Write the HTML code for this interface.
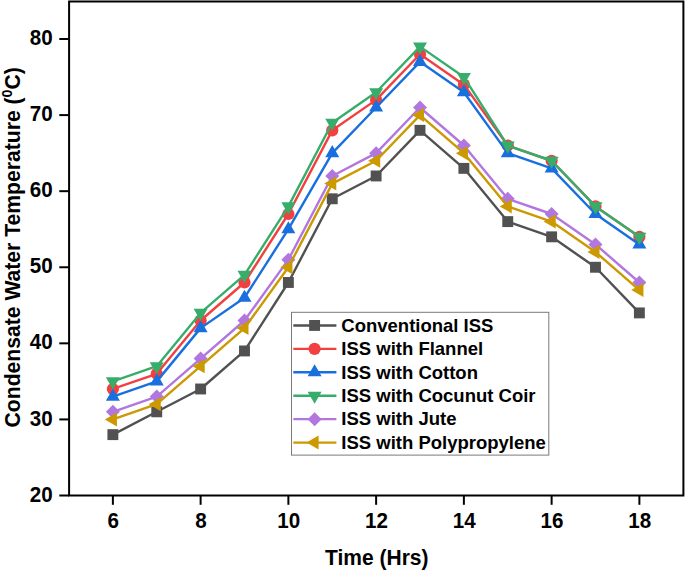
<!DOCTYPE html>
<html><head><meta charset="utf-8"><title>Condensate Water Temperature</title>
<style>
html,body{margin:0;padding:0;background:#fff;}
svg{display:block;}
text{font-family:"Liberation Sans",Arial,sans-serif;font-weight:bold;fill:#000;}
.t{font-size:21px;}
.k{font-size:20.6px;}
.l{font-size:18.5px;}
</style></head><body>
<svg width="685" height="570" viewBox="0 0 685 570">
<rect x="0" y="0" width="685" height="570" fill="#fff"/>

<polyline points="112.88,434.64 156.75,411.81 200.62,388.99 244.50,350.95 288.38,282.48 332.25,198.79 376.12,175.96 420.00,130.32 463.88,168.36 507.75,221.61 551.62,236.83 595.50,267.26 639.38,312.91" fill="none" stroke="#515151" stroke-width="2.4" stroke-linejoin="round"/>
<rect x="107.42" y="429.19" width="10.9" height="10.9" fill="#515151"/>
<rect x="151.30" y="406.36" width="10.9" height="10.9" fill="#515151"/>
<rect x="195.18" y="383.54" width="10.9" height="10.9" fill="#515151"/>
<rect x="239.05" y="345.50" width="10.9" height="10.9" fill="#515151"/>
<rect x="282.93" y="277.03" width="10.9" height="10.9" fill="#515151"/>
<rect x="326.80" y="193.34" width="10.9" height="10.9" fill="#515151"/>
<rect x="370.68" y="170.51" width="10.9" height="10.9" fill="#515151"/>
<rect x="414.55" y="124.87" width="10.9" height="10.9" fill="#515151"/>
<rect x="458.43" y="162.91" width="10.9" height="10.9" fill="#515151"/>
<rect x="502.30" y="216.16" width="10.9" height="10.9" fill="#515151"/>
<rect x="546.17" y="231.38" width="10.9" height="10.9" fill="#515151"/>
<rect x="590.05" y="261.81" width="10.9" height="10.9" fill="#515151"/>
<rect x="633.92" y="307.46" width="10.9" height="10.9" fill="#515151"/>
<polyline points="112.88,388.99 156.75,373.77 200.62,320.52 244.50,282.48 288.38,214.00 332.25,130.32 376.12,99.88 420.00,54.24 463.88,84.67 507.75,145.53 551.62,160.75 595.50,206.40 639.38,236.83" fill="none" stroke="#F14040" stroke-width="2.4" stroke-linejoin="round"/>
<circle cx="112.88" cy="388.99" r="6.1" fill="#F14040"/>
<circle cx="156.75" cy="373.77" r="6.1" fill="#F14040"/>
<circle cx="200.62" cy="320.52" r="6.1" fill="#F14040"/>
<circle cx="244.50" cy="282.48" r="6.1" fill="#F14040"/>
<circle cx="288.38" cy="214.00" r="6.1" fill="#F14040"/>
<circle cx="332.25" cy="130.32" r="6.1" fill="#F14040"/>
<circle cx="376.12" cy="99.88" r="6.1" fill="#F14040"/>
<circle cx="420.00" cy="54.24" r="6.1" fill="#F14040"/>
<circle cx="463.88" cy="84.67" r="6.1" fill="#F14040"/>
<circle cx="507.75" cy="145.53" r="6.1" fill="#F14040"/>
<circle cx="551.62" cy="160.75" r="6.1" fill="#F14040"/>
<circle cx="595.50" cy="206.40" r="6.1" fill="#F14040"/>
<circle cx="639.38" cy="236.83" r="6.1" fill="#F14040"/>
<polyline points="112.88,396.60 156.75,381.38 200.62,328.12 244.50,297.69 288.38,229.22 332.25,153.14 376.12,107.49 420.00,61.84 463.88,92.28 507.75,153.14 551.62,168.36 595.50,214.00 639.38,244.44" fill="none" stroke="#1A6FDF" stroke-width="2.4" stroke-linejoin="round"/>
<polygon points="105.88,400.63 119.88,400.63 112.88,388.53" fill="#1A6FDF"/>
<polygon points="149.75,385.41 163.75,385.41 156.75,373.31" fill="#1A6FDF"/>
<polygon points="193.62,332.16 207.62,332.16 200.62,320.06" fill="#1A6FDF"/>
<polygon points="237.50,301.73 251.50,301.73 244.50,289.63" fill="#1A6FDF"/>
<polygon points="281.38,233.25 295.38,233.25 288.38,221.15" fill="#1A6FDF"/>
<polygon points="325.25,157.17 339.25,157.17 332.25,145.07" fill="#1A6FDF"/>
<polygon points="369.12,111.53 383.12,111.53 376.12,99.43" fill="#1A6FDF"/>
<polygon points="413.00,65.88 427.00,65.88 420.00,53.78" fill="#1A6FDF"/>
<polygon points="456.88,96.31 470.88,96.31 463.88,84.21" fill="#1A6FDF"/>
<polygon points="500.75,157.17 514.75,157.17 507.75,145.07" fill="#1A6FDF"/>
<polygon points="544.62,172.39 558.62,172.39 551.62,160.29" fill="#1A6FDF"/>
<polygon points="588.50,218.04 602.50,218.04 595.50,205.94" fill="#1A6FDF"/>
<polygon points="632.38,248.47 646.38,248.47 639.38,236.37" fill="#1A6FDF"/>
<polyline points="112.88,381.38 156.75,366.16 200.62,312.91 244.50,274.87 288.38,206.40 332.25,122.71 376.12,92.28 420.00,46.63 463.88,77.06 507.75,145.53 551.62,160.75 595.50,206.40 639.38,236.83" fill="none" stroke="#37AD6B" stroke-width="2.4" stroke-linejoin="round"/>
<polygon points="105.88,377.35 119.88,377.35 112.88,389.45" fill="#37AD6B"/>
<polygon points="149.75,362.13 163.75,362.13 156.75,374.23" fill="#37AD6B"/>
<polygon points="193.62,308.87 207.62,308.87 200.62,320.97" fill="#37AD6B"/>
<polygon points="237.50,270.83 251.50,270.83 244.50,282.93" fill="#37AD6B"/>
<polygon points="281.38,202.36 295.38,202.36 288.38,214.46" fill="#37AD6B"/>
<polygon points="325.25,118.67 339.25,118.67 332.25,130.77" fill="#37AD6B"/>
<polygon points="369.12,88.24 383.12,88.24 376.12,100.34" fill="#37AD6B"/>
<polygon points="413.00,42.59 427.00,42.59 420.00,54.69" fill="#37AD6B"/>
<polygon points="456.88,73.03 470.88,73.03 463.88,85.13" fill="#37AD6B"/>
<polygon points="500.75,141.50 514.75,141.50 507.75,153.60" fill="#37AD6B"/>
<polygon points="544.62,156.71 558.62,156.71 551.62,168.81" fill="#37AD6B"/>
<polygon points="588.50,202.36 602.50,202.36 595.50,214.46" fill="#37AD6B"/>
<polygon points="632.38,232.79 646.38,232.79 639.38,244.89" fill="#37AD6B"/>
<polyline points="112.88,411.81 156.75,396.60 200.62,358.56 244.50,320.52 288.38,259.65 332.25,175.96 376.12,153.14 420.00,107.49 463.88,145.53 507.75,198.79 551.62,214.00 595.50,244.44 639.38,282.48" fill="none" stroke="#B177DE" stroke-width="2.4" stroke-linejoin="round"/>
<polygon points="105.88,411.81 112.88,404.81 119.88,411.81 112.88,418.81" fill="#B177DE"/>
<polygon points="149.75,396.60 156.75,389.60 163.75,396.60 156.75,403.60" fill="#B177DE"/>
<polygon points="193.62,358.56 200.62,351.56 207.62,358.56 200.62,365.56" fill="#B177DE"/>
<polygon points="237.50,320.52 244.50,313.52 251.50,320.52 244.50,327.52" fill="#B177DE"/>
<polygon points="281.38,259.65 288.38,252.65 295.38,259.65 288.38,266.65" fill="#B177DE"/>
<polygon points="325.25,175.96 332.25,168.96 339.25,175.96 332.25,182.96" fill="#B177DE"/>
<polygon points="369.12,153.14 376.12,146.14 383.12,153.14 376.12,160.14" fill="#B177DE"/>
<polygon points="413.00,107.49 420.00,100.49 427.00,107.49 420.00,114.49" fill="#B177DE"/>
<polygon points="456.88,145.53 463.88,138.53 470.88,145.53 463.88,152.53" fill="#B177DE"/>
<polygon points="500.75,198.79 507.75,191.79 514.75,198.79 507.75,205.79" fill="#B177DE"/>
<polygon points="544.62,214.00 551.62,207.00 558.62,214.00 551.62,221.00" fill="#B177DE"/>
<polygon points="588.50,244.44 595.50,237.44 602.50,244.44 595.50,251.44" fill="#B177DE"/>
<polygon points="632.38,282.48 639.38,275.48 646.38,282.48 639.38,289.48" fill="#B177DE"/>
<polyline points="112.88,419.42 156.75,404.20 200.62,366.16 244.50,328.12 288.38,267.26 332.25,183.57 376.12,160.75 420.00,115.10 463.88,153.14 507.75,206.40 551.62,221.61 595.50,252.04 639.38,290.08" fill="none" stroke="#CC9900" stroke-width="2.4" stroke-linejoin="round"/>
<polygon points="116.91,412.42 116.91,426.42 104.81,419.42" fill="#CC9900"/>
<polygon points="160.78,397.20 160.78,411.20 148.68,404.20" fill="#CC9900"/>
<polygon points="204.66,359.16 204.66,373.16 192.56,366.16" fill="#CC9900"/>
<polygon points="248.53,321.12 248.53,335.12 236.43,328.12" fill="#CC9900"/>
<polygon points="292.41,260.26 292.41,274.26 280.31,267.26" fill="#CC9900"/>
<polygon points="336.28,176.57 336.28,190.57 324.18,183.57" fill="#CC9900"/>
<polygon points="380.16,153.75 380.16,167.75 368.06,160.75" fill="#CC9900"/>
<polygon points="424.03,108.10 424.03,122.10 411.93,115.10" fill="#CC9900"/>
<polygon points="467.91,146.14 467.91,160.14 455.81,153.14" fill="#CC9900"/>
<polygon points="511.78,199.40 511.78,213.40 499.68,206.40" fill="#CC9900"/>
<polygon points="555.66,214.61 555.66,228.61 543.56,221.61" fill="#CC9900"/>
<polygon points="599.53,245.04 599.53,259.04 587.43,252.04" fill="#CC9900"/>
<polygon points="643.41,283.08 643.41,297.08 631.31,290.08" fill="#CC9900"/>
<rect x="69.1" y="1.5" width="614.3" height="494.0" fill="none" stroke="#000" stroke-width="2"/>
<line x1="59.3" x2="69" y1="495.50" y2="495.50" stroke="#000" stroke-width="2"/>
<text class="k" transform="translate(52.7,501.60) scale(1,1.085)" text-anchor="end">20</text>
<line x1="59.3" x2="69" y1="419.42" y2="419.42" stroke="#000" stroke-width="2"/>
<text class="k" transform="translate(52.7,425.52) scale(1,1.085)" text-anchor="end">30</text>
<line x1="59.3" x2="69" y1="343.34" y2="343.34" stroke="#000" stroke-width="2"/>
<text class="k" transform="translate(52.7,349.44) scale(1,1.085)" text-anchor="end">40</text>
<line x1="59.3" x2="69" y1="267.26" y2="267.26" stroke="#000" stroke-width="2"/>
<text class="k" transform="translate(52.7,273.36) scale(1,1.085)" text-anchor="end">50</text>
<line x1="59.3" x2="69" y1="191.18" y2="191.18" stroke="#000" stroke-width="2"/>
<text class="k" transform="translate(52.7,197.28) scale(1,1.085)" text-anchor="end">60</text>
<line x1="59.3" x2="69" y1="115.10" y2="115.10" stroke="#000" stroke-width="2"/>
<text class="k" transform="translate(52.7,121.20) scale(1,1.085)" text-anchor="end">70</text>
<line x1="59.3" x2="69" y1="39.02" y2="39.02" stroke="#000" stroke-width="2"/>
<text class="k" transform="translate(52.7,45.12) scale(1,1.085)" text-anchor="end">80</text>
<line x1="112.88" x2="112.88" y1="495.5" y2="504.8" stroke="#000" stroke-width="2"/>
<text class="k" transform="translate(113.17,527.9) scale(1,1.085)" text-anchor="middle">6</text>
<line x1="200.62" x2="200.62" y1="495.5" y2="504.8" stroke="#000" stroke-width="2"/>
<text class="k" transform="translate(200.93,527.9) scale(1,1.085)" text-anchor="middle">8</text>
<line x1="288.38" x2="288.38" y1="495.5" y2="504.8" stroke="#000" stroke-width="2"/>
<text class="k" transform="translate(288.68,527.9) scale(1,1.085)" text-anchor="middle">10</text>
<line x1="376.12" x2="376.12" y1="495.5" y2="504.8" stroke="#000" stroke-width="2"/>
<text class="k" transform="translate(376.43,527.9) scale(1,1.085)" text-anchor="middle">12</text>
<line x1="463.88" x2="463.88" y1="495.5" y2="504.8" stroke="#000" stroke-width="2"/>
<text class="k" transform="translate(464.18,527.9) scale(1,1.085)" text-anchor="middle">14</text>
<line x1="551.62" x2="551.62" y1="495.5" y2="504.8" stroke="#000" stroke-width="2"/>
<text class="k" transform="translate(551.92,527.9) scale(1,1.085)" text-anchor="middle">16</text>
<line x1="639.38" x2="639.38" y1="495.5" y2="504.8" stroke="#000" stroke-width="2"/>
<text class="k" transform="translate(639.67,527.9) scale(1,1.085)" text-anchor="middle">18</text>
<text class="t" transform="translate(376.8,565.0) scale(1,1.035)" text-anchor="middle">Time (Hrs)</text>
<text class="t" style="font-size:21.15px" transform="translate(20.0,247.3) rotate(-90) scale(1,1.06)" text-anchor="middle">Condensate Water Temperature (<tspan font-size="14.3" dy="-7.3">0</tspan><tspan dy="7.3">C)</tspan></text>
<rect x="291.5" y="312.3" width="257.3" height="142.8" fill="#fff" stroke="#7a7a7a" stroke-width="1"/>
<line x1="293.3" x2="336.4" y1="325.45" y2="325.45" stroke="#515151" stroke-width="2.4"/>
<rect x="309.15" y="320.00" width="10.9" height="10.9" fill="#515151"/>
<text class="l" x="341.3" y="331.65">Conventional ISS</text>
<line x1="293.3" x2="336.4" y1="348.88" y2="348.88" stroke="#F14040" stroke-width="2.4"/>
<circle cx="314.60" cy="348.88" r="6.1" fill="#F14040"/>
<text class="l" x="341.3" y="355.08">ISS with Flannel</text>
<line x1="293.3" x2="336.4" y1="372.31" y2="372.31" stroke="#1A6FDF" stroke-width="2.4"/>
<polygon points="307.60,376.34 321.60,376.34 314.60,364.24" fill="#1A6FDF"/>
<text class="l" x="341.3" y="378.51">ISS with Cotton</text>
<line x1="293.3" x2="336.4" y1="395.74" y2="395.74" stroke="#37AD6B" stroke-width="2.4"/>
<polygon points="307.60,391.71 321.60,391.71 314.60,403.81" fill="#37AD6B"/>
<text class="l" x="341.3" y="401.94">ISS with Cocunut Coir</text>
<line x1="293.3" x2="336.4" y1="419.17" y2="419.17" stroke="#B177DE" stroke-width="2.4"/>
<polygon points="307.60,419.17 314.60,412.17 321.60,419.17 314.60,426.17" fill="#B177DE"/>
<text class="l" x="341.3" y="425.37">ISS with Jute</text>
<line x1="293.3" x2="336.4" y1="442.60" y2="442.60" stroke="#CC9900" stroke-width="2.4"/>
<polygon points="318.63,435.60 318.63,449.60 306.53,442.60" fill="#CC9900"/>
<text class="l" x="341.3" y="448.80">ISS with Polypropylene</text>
</svg></body></html>
